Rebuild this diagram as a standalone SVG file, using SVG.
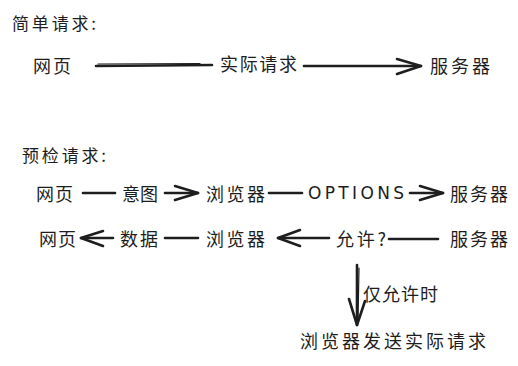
<svg xmlns="http://www.w3.org/2000/svg" width="518" height="366" viewBox="0 0 518 366">
<style>
text{font-family:"Noto Sans CJK SC","Noto Sans",sans-serif;font-size:18px;fill:#1e1e1e;dominant-baseline:central}
.t{font-size:17px}
.ln{stroke:#1e1e1e;stroke-width:2.6;fill:none;stroke-linecap:round;stroke-linejoin:round}
.lt{stroke:#1e1e1e;stroke-width:1.2;fill:none;stroke-linecap:round}
</style>
<rect width="518" height="366" fill="#fff"/>
<g id="title1"><text class="t" x="12" y="22" textLength="84">简单请求:</text></g>
<g id="title2"><text class="t" x="22" y="154" textLength="84">预检请求:</text></g>

<g id="n-web1"><text x="33" y="65" textLength="38">网页</text></g>
<g id="n-server1"><text x="430" y="65" textLength="60">服务器</text></g>

<g id="n-web2"><text x="36" y="193" textLength="37">网页</text></g>
<g id="n-browser2"><text x="206" y="193" textLength="59">浏览器</text></g>
<g id="n-server2"><text x="450" y="193" textLength="58">服务器</text></g>

<g id="n-web3"><text x="39" y="238" textLength="37">网页</text></g>
<g id="n-browser3"><text x="206" y="238" textLength="59">浏览器</text></g>
<g id="n-server3"><text x="450" y="238" textLength="58">服务器</text></g>

<g id="n-final"><text x="300" y="340" textLength="186">浏览器发送实际请求</text></g>

<g id="connectors">
  <!-- row 1 -->
  <path class="ln" d="M96 66 L212 65"/>
  <path class="lt" d="M98 64 L200 63.5"/>
  <path class="ln" d="M304 66 L421 66"/>
  <path class="ln" d="M397 59 L421 66 L397 74"/>
  <text x="220" y="63" textLength="77">实际请求</text>

  <!-- row 2 -->
  <path class="ln" d="M83 193 L115 193"/>
  <text x="122" y="193" textLength="36">意图</text>
  <path class="ln" d="M165 193 L198 193"/>
  <path class="ln" d="M175 186 L198 193 L175 200"/>
  <path class="ln" d="M269 193 L302 193"/>
  <text x="308" y="193" textLength="96" style="font-family:'DejaVu Sans',sans-serif;font-size:17px">OPTIONS</text>
  <path class="ln" d="M410 193 L443 193"/>
  <path class="ln" d="M420 186 L443 193 L420 200"/>

  <!-- row 3 -->
  <path class="ln" d="M113 238 L81 238"/>
  <path class="ln" d="M103 231 L81 238 L103 246"/>
  <text x="120" y="238" textLength="38">数据</text>
  <path class="ln" d="M165 238 L198 238"/>
  <path class="ln" d="M329 238 L278 238"/>
  <path class="ln" d="M300 230 L278 238 L300 246"/>
  <text x="336" y="238" textLength="50">允许?</text>
  <path class="ln" d="M389 239 L438 239"/>

  <!-- vertical -->
  <path class="ln" d="M357 265 L357 325"/>
  <path class="lt" d="M359 268 L358 320"/>
  <path class="ln" d="M349 299 L357 325 L365 301"/>
  <text x="363" y="293" textLength="75">仅允许时</text>
</g>
</svg>
